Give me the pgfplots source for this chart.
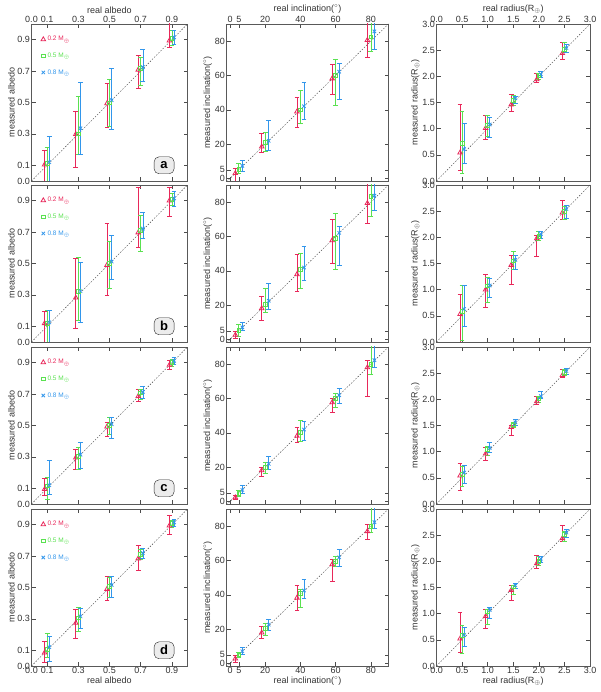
\documentclass[border=0pt]{standalone}
\usepackage{fontspec}
\setmainfont{Liberation Sans}
\usepackage{pgfplots}
\pgfplotsset{compat=1.18}
\definecolor{cred}{RGB}{232,40,90}
\definecolor{cgreen}{RGB}{90,225,80}
\definecolor{cblue}{RGB}{50,150,235}
\tikzset{plab/.style={draw=black!85, fill=gray!15, rounded corners=5pt, minimum width=20pt, minimum height=17pt,
   inner sep=0pt, font=\fontsize{13}{13}\selectfont\bfseries}}
\pgfplotsset{
 base/.style={scale only axis, height=157pt, anchor=south west, tick align=inside,
   major tick length=4pt, axis line style={black!65, line width=0.9pt},
   tick style={black!70, line width=0.5pt},
   ticklabel style={font=\fontsize{9}{10}\selectfont, text=black!80, inner sep=1.5pt},
   label style={font=\fontsize{9}{10}\selectfont, text=black!80, inner sep=1pt},
   legend style={at={(0.06,0.935)}, anchor=north west, draw=none, fill=none,
     font=\fontsize{6.5}{7}\selectfont, row sep=6.5pt, inner sep=0pt},
   legend cell align=left},
 albedo/.style={base, width=156pt, xmin=0, xmax=1, ymin=0, ymax=1,
   xtick={0,0.1,0.3,0.5,0.7,0.9}, ytick={0,0.1,0.3,0.5,0.7,0.9},
   xticklabels={0.0,0.1,0.3,0.5,0.7,0.9}, yticklabels={0.0,0.1,0.3,0.5,0.7,0.9},
   ylabel={measured albedo}, xlabel={real albedo}},
 incl/.style={base, width=162pt, xmin=-2, xmax=90, ymin=-1.5, ymax=90,
   xtick={0,5,20,40,60,80}, ytick={0,5,20,40,60,80},
   xticklabels={0,5,20,40,60,80}, yticklabels={0,5,20,40,60,80},
   ylabel={measured inclination($^\circ$)}, xlabel={real inclination($^\circ$)}},
 rad/.style={base, width=153.5pt, xmin=0, xmax=3, ymin=0, ymax=3,
   xtick={0,0.5,1,1.5,2,2.5,3}, ytick={0,0.5,1,1.5,2,2.5,3},
   xticklabels={0.0,0.5,1.0,1.5,2.0,2.5,3.0}, yticklabels={0.0,0.5,1.0,1.5,2.0,2.5,3.0},
   ylabel={measured radius(R$_\oplus$)}, xlabel={real radius(R$_\oplus$)}},
 toprow/.style={xticklabel pos=upper},
 midrow/.style={xticklabels={}, xlabel={}},
 botrow/.style={},
 rser/.style={only marks, mark=triangle, mark size=2.6pt, color=cred, mark options={line width=0.8pt, draw=cred},
   error bars/.cd, y dir=both, y explicit, error bar style={line width=0.7pt, color=cred, solid},
   error mark options={color=cred, rotate=90, mark size=2.4pt, line width=0.7pt}},
 gser/.style={only marks, mark=square, mark size=1.9pt, color=cgreen, mark options={line width=0.8pt, draw=cgreen},
   error bars/.cd, y dir=both, y explicit, error bar style={line width=0.7pt, color=cgreen, solid},
   error mark options={color=cgreen, rotate=90, mark size=2.4pt, line width=0.7pt}},
 bser/.style={only marks, mark=x, mark size=2.4pt, color=cblue, mark options={line width=0.8pt, draw=cblue},
   error bars/.cd, y dir=both, y explicit, error bar style={line width=0.7pt, color=cblue, solid},
   error mark options={color=cblue, rotate=90, mark size=2.4pt, line width=0.7pt}},
 diag/.style={forget plot, no marks, black!75, line width=0.4pt, dash pattern=on 1.5pt off 1.5pt}
}
\newcommand{\ser}[2]{\addplot[#1] table[row sep=\\, x=x, y=y,
  y error plus expr=\thisrow{h}-\thisrow{y}, y error minus expr=\thisrow{y}-\thisrow{l}] {#2};}
\newcommand{\leg}{\legend{\textcolor{cred}{0.2 M$_\oplus$},\textcolor{cgreen}{0.5 M$_\oplus$},\textcolor{cblue}{0.8 M$_\oplus$}}}
\begin{document}
\begin{tikzpicture}[x=1pt,y=1pt]
\useasboundingbox (0,0) rectangle (600,692);
% ===== Row 1 =====
\begin{axis}[albedo, toprow, at={(31.5pt,511pt)}]
\addplot[diag] coordinates {(0,0) (1,1)};
\ser{rser}{x y h l\\ 0.084 0.104 0.195 -0.05\\ 0.284 0.298 0.441 0.087\\ 0.484 0.494 0.624 0.342\\ 0.684 0.708 0.799 0.593\\ 0.884 0.894 1.05 0.852\\}
\ser{gser}{x y h l\\ 0.1 0.11 0.214 -0.05\\ 0.3 0.30 0.542 0.167\\ 0.5 0.498 0.645 0.35\\ 0.7 0.715 0.788 0.61\\ 0.9 0.91 0.957 0.862\\}
\ser{bser}{x y h l\\ 0.114 0.12 0.283 -0.05\\ 0.314 0.336 0.626 0.167\\ 0.514 0.515 0.719 0.33\\ 0.714 0.725 0.837 0.637\\ 0.914 0.915 0.957 0.873\\}
\leg
\node[plab] at (rel axis cs:0.85,0.1) {a};
\end{axis}
\begin{axis}[incl, toprow, at={(226.5pt,511pt)}]
\addplot[diag] coordinates {(-2,-2) (90,90)};
\ser{rser}{x y h l\\ 3 3.0 5.8 -3\\ 18 18.5 26 14.9\\ 38 38.9 47.4 29.8\\ 58 58.2 66.4 48.8\\ 78 80.6 95 70.7\\}
\ser{gser}{x y h l\\ 5 5.4 8.6 3\\ 20 21 27 15.5\\ 40 39.9 51.2 32.3\\ 60 60.1 69.2 42.3\\ 80 82.5 95 73.9\\}
\ser{bser}{x y h l\\ 7 7.3 10.5 4.3\\ 22 21.9 33.6 16.2\\ 42 42.1 56 34.6\\ 62 62.2 67.3 45.9\\ 82 85.7 95 75.3\\}
\end{axis}
\begin{axis}[rad, toprow, at={(436.5pt,511pt)}]
\addplot[diag] coordinates {(0,0) (3,3)};
\ser{rser}{x y h l\\ 0.46 0.54 1.46 0.2\\ 0.96 1.01 1.26 0.79\\ 1.46 1.46 1.66 1.33\\ 1.96 1.94 2.06 1.88\\ 2.46 2.44 2.65 2.33\\}
\ser{gser}{x y h l\\ 0.5 0.72 1.33 0.14\\ 1.0 1.06 1.25 0.86\\ 1.5 1.54 1.63 1.45\\ 2.0 2.01 2.06 1.95\\ 2.5 2.51 2.64 2.45\\}
\ser{bser}{x y h l\\ 0.54 0.61 1.11 0.34\\ 1.04 1.08 1.21 0.84\\ 1.54 1.58 1.62 1.49\\ 2.04 2.04 2.09 1.98\\ 2.54 2.54 2.62 2.45\\}
\end{axis}
% ===== Row 2 =====
\begin{axis}[albedo, midrow, at={(31.5pt,350pt)}]
\addplot[diag] coordinates {(0,0) (1,1)};
\ser{rser}{x y h l\\ 0.084 0.119 0.198 -0.05\\ 0.284 0.282 0.53 0.09\\ 0.484 0.49 0.753 0.30\\ 0.684 0.697 0.985 0.60\\ 0.884 0.90 0.985 0.80\\}
\ser{gser}{x y h l\\ 0.1 0.119 0.2 -0.05\\ 0.3 0.32 0.538 0.14\\ 0.5 0.5 0.64 0.34\\ 0.7 0.712 0.806 0.58\\ 0.9 0.906 0.946 0.872\\}
\ser{bser}{x y h l\\ 0.114 0.125 0.2 -0.05\\ 0.314 0.324 0.506 0.125\\ 0.514 0.512 0.68 0.40\\ 0.714 0.722 0.827 0.66\\ 0.914 0.915 0.96 0.865\\}
\leg
\node[plab] at (rel axis cs:0.85,0.1) {b};
\end{axis}
\begin{axis}[incl, midrow, at={(226.5pt,350pt)}]
\addplot[diag] coordinates {(-2,-2) (90,90)};
\ser{rser}{x y h l\\ 3 2.6 4.5 0.75\\ 18 18.1 24.9 11.1\\ 38 37.9 49.8 28.1\\ 58 57.7 70.2 44.2\\ 78 79.4 95 67.7\\}
\ser{gser}{x y h l\\ 5 5.1 8.7 1.7\\ 20 20.6 30 15.8\\ 40 40.8 50.2 30\\ 60 58.9 73.4 40.9\\ 80 83.4 95 72\\}
\ser{bser}{x y h l\\ 7 7 9.8 5.1\\ 22 22.5 32.8 17.7\\ 42 41.9 54.3 34.7\\ 62 62.1 65.8 43.2\\ 82 83.8 95 75.3\\}
\end{axis}
\begin{axis}[rad, midrow, at={(436.5pt,350pt)}]
\addplot[diag] coordinates {(0,0) (3,3)};
\ser{rser}{x y h l\\ 0.46 0.53 0.91 -0.1\\ 0.96 1.0 1.29 0.66\\ 1.46 1.47 1.65 1.1\\ 1.96 1.98 2.04 1.63\\ 2.46 2.47 2.7 2.34\\}
\ser{gser}{x y h l\\ 0.5 0.59 1.08 0.03\\ 1.0 1.07 1.24 0.75\\ 1.5 1.55 1.73 1.38\\ 2.0 2.02 2.12 1.95\\ 2.5 2.5 2.6 2.34\\}
\ser{bser}{x y h l\\ 0.54 0.63 1.08 0.29\\ 1.04 1.08 1.22 0.85\\ 1.54 1.57 1.65 1.38\\ 2.04 2.06 2.12 1.98\\ 2.54 2.54 2.61 2.36\\}
\end{axis}
% ===== Row 3 =====
\begin{axis}[albedo, midrow, at={(31.5pt,188pt)}]
\addplot[diag] coordinates {(0,0) (1,1)};
\ser{rser}{x y h l\\ 0.084 0.094 0.163 0.058\\ 0.284 0.295 0.345 0.22\\ 0.484 0.492 0.523 0.43\\ 0.684 0.686 0.732 0.655\\ 0.884 0.885 0.917 0.858\\}
\ser{gser}{x y h l\\ 0.1 0.115 0.167 0.027\\ 0.3 0.305 0.362 0.22\\ 0.5 0.502 0.55 0.445\\ 0.7 0.707 0.728 0.665\\ 0.9 0.9 0.92 0.875\\}
\ser{bser}{x y h l\\ 0.114 0.12 0.278 0.064\\ 0.314 0.314 0.393 0.23\\ 0.514 0.508 0.55 0.418\\ 0.714 0.714 0.75 0.676\\ 0.914 0.912 0.933 0.89\\}
\leg
\node[plab] at (rel axis cs:0.85,0.1) {c};
\end{axis}
\begin{axis}[incl, midrow, at={(226.5pt,188pt)}]
\addplot[diag] coordinates {(-2,-2) (90,90)};
\ser{rser}{x y h l\\ 3 2.3 3.8 1\\ 18 18.1 20 14.7\\ 38 38.1 43.2 34.3\\ 58 57.7 60 51.8\\ 78 78.1 82.5 61.3\\}
\ser{gser}{x y h l\\ 5 4.8 6.7 3.2\\ 20 20 22.9 16.2\\ 40 40.4 47 35.2\\ 60 60 63.2 54.7\\ 80 80 95 74.3\\}
\ser{bser}{x y h l\\ 7 6.7 9.5 4.8\\ 22 21.9 26.3 18.5\\ 42 41.9 46.7 35.6\\ 62 61.9 65.7 57.1\\ 82 82.3 95 78.1\\}
\end{axis}
\begin{axis}[rad, midrow, at={(436.5pt,188pt)}]
\addplot[diag] coordinates {(0,0) (3,3)};
\ser{rser}{x y h l\\ 0.46 0.54 0.78 0.27\\ 0.96 0.96 1.08 0.84\\ 1.46 1.47 1.51 1.31\\ 1.96 1.96 2.06 1.91\\ 2.46 2.46 2.58 2.42\\}
\ser{gser}{x y h l\\ 0.5 0.57 0.71 0.33\\ 1.0 1.04 1.11 0.92\\ 1.5 1.51 1.56 1.47\\ 2.0 2.01 2.06 1.94\\ 2.5 2.51 2.58 2.45\\}
\ser{bser}{x y h l\\ 0.54 0.6 0.74 0.39\\ 1.04 1.07 1.17 0.99\\ 1.54 1.56 1.61 1.51\\ 2.04 2.06 2.15 2.01\\ 2.54 2.54 2.59 2.48\\}
\end{axis}
% ===== Row 4 =====
\begin{axis}[albedo, botrow, at={(31.5pt,26pt)}]
\addplot[diag] coordinates {(0,0) (1,1)};
\ser{rser}{x y h l\\ 0.084 0.085 0.155 0.022\\ 0.284 0.274 0.363 0.176\\ 0.484 0.49 0.568 0.417\\ 0.684 0.684 0.768 0.61\\ 0.884 0.894 0.961 0.837\\}
\ser{gser}{x y h l\\ 0.1 0.106 0.211 0.054\\ 0.3 0.306 0.373 0.222\\ 0.5 0.505 0.562 0.438\\ 0.7 0.709 0.741 0.678\\ 0.9 0.91 0.926 0.884\\}
\ser{bser}{x y h l\\ 0.114 0.12 0.186 0.029\\ 0.314 0.316 0.369 0.237\\ 0.514 0.516 0.568 0.438\\ 0.714 0.72 0.751 0.684\\ 0.914 0.915 0.932 0.89\\}
\leg
\node[plab] at (rel axis cs:0.85,0.1) {d};
\end{axis}
\begin{axis}[incl, botrow, at={(226.5pt,26pt)}]
\addplot[diag] coordinates {(-2,-2) (90,90)};
\ser{rser}{x y h l\\ 3 2.8 4.7 0.9\\ 18 17.9 21.7 14.5\\ 38 38.2 45.7 31.2\\ 58 57.7 60.5 47.6\\ 78 77 81.3 72.2\\}
\ser{gser}{x y h l\\ 5 5 6.2 3.7\\ 20 20.4 23.6 16.4\\ 40 41 43.1 32.5\\ 60 59.6 62.4 56.7\\ 80 80 95 76.6\\}
\ser{bser}{x y h l\\ 7 7.1 9.4 5.2\\ 22 22.6 25.9 19.2\\ 42 42.5 49.1 37.8\\ 62 61.8 66.6 56.7\\ 82 82.3 95 78.5\\}
\end{axis}
\begin{axis}[rad, botrow, at={(436.5pt,26pt)}]
\addplot[diag] coordinates {(0,0) (3,3)};
\ser{rser}{x y h l\\ 0.46 0.52 1.02 0.26\\ 0.96 0.95 1.09 0.72\\ 1.46 1.45 1.54 1.26\\ 1.96 1.96 2.11 1.87\\ 2.46 2.44 2.68 2.39\\}
\ser{gser}{x y h l\\ 0.5 0.58 0.77 0.25\\ 1.0 1.04 1.09 0.8\\ 1.5 1.51 1.54 1.37\\ 2.0 2.0 2.09 1.92\\ 2.5 2.52 2.57 2.39\\}
\ser{bser}{x y h l\\ 0.54 0.59 0.74 0.37\\ 1.04 1.07 1.13 0.91\\ 1.54 1.54 1.57 1.48\\ 2.04 2.05 2.09 1.98\\ 2.54 2.55 2.61 2.45\\}
\end{axis}
\end{tikzpicture}
\end{document}
